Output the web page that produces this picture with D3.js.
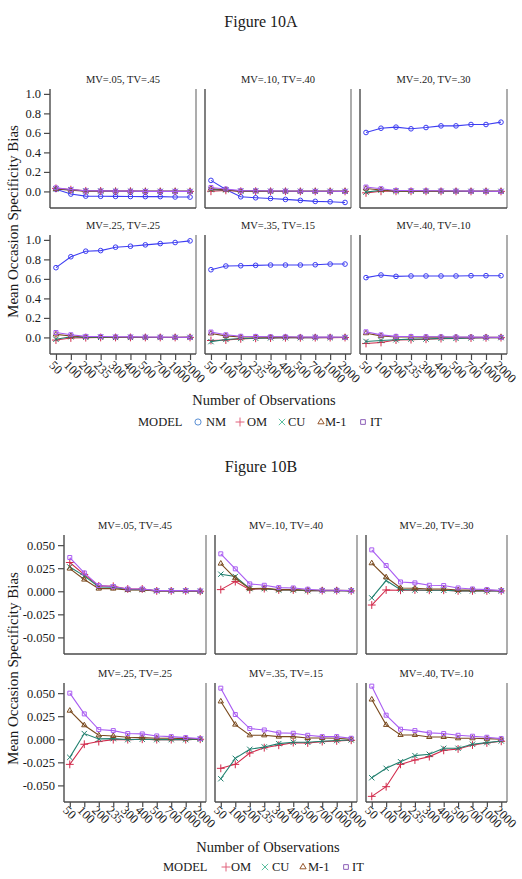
<!DOCTYPE html>
<html>
<head>
<meta charset="utf-8">
<script src="https://cdn.jsdelivr.net/npm/d3@7"></script>
<style>
  html, body { margin: 0; padding: 0; background: #fff; }
  svg { display: block; }
  text { font-family: "Liberation Serif", "Times New Roman", serif; fill: #1a1a1a; }
</style>
</head>
<body>
<svg id="chart" width="522" height="879"></svg>
<script>
// ---------------- DATA ----------------
const categories = ["50", "100", "200", "235", "300", "400", "500", "700", "1000", "2000"];
const panelTitles = ["MV=.05, TV=.45", "MV=.10, TV=.40", "MV=.20, TV=.30",
                     "MV=.25, TV=.25", "MV=.35, TV=.15", "MV=.40, TV=.10"];
const modelNames = ["NM", "OM", "CU", "M-1", "IT"];

const nmValues = [
  [0.022, -0.027, -0.048, -0.050, -0.051, -0.052, -0.053, -0.053, -0.057, -0.058],
  [0.113, 0.020, -0.055, -0.065, -0.072, -0.082, -0.092, -0.102, -0.106, -0.113],
  [0.604, 0.648, 0.659, 0.642, 0.655, 0.672, 0.672, 0.686, 0.686, 0.710],
  [0.715, 0.827, 0.884, 0.890, 0.925, 0.935, 0.949, 0.962, 0.973, 0.990],
  [0.694, 0.732, 0.735, 0.739, 0.742, 0.742, 0.742, 0.745, 0.752, 0.752],
  [0.613, 0.640, 0.626, 0.630, 0.630, 0.630, 0.630, 0.633, 0.633, 0.633]
];
const omValues = [
  [0.0312, 0.0181, 0.0058, 0.0054, 0.0025, 0.0025, 0.0004, 0.0004, 0.0004, 0.0000],
  [0.0018, 0.0105, 0.0018, 0.0029, 0.0014, 0.0014, 0.0007, 0.0007, 0.0007, 0.0004],
  [-0.0149, 0.0014, 0.0011, 0.0014, 0.0011, 0.0011, 0.0004, 0.0004, 0.0004, 0.0004],
  [-0.0272, -0.0054, -0.0025, -0.0004, -0.0004, 0.0000, -0.0004, -0.0004, -0.0004, 0.0000],
  [-0.0315, -0.0272, -0.0149, -0.0091, -0.0065, -0.0036, -0.0040, -0.0025, -0.0018, -0.0011],
  [-0.0619, -0.0514, -0.0272, -0.0225, -0.0188, -0.0120, -0.0105, -0.0062, -0.0040, -0.0022]
];
const cuValues = [
  [0.0264, 0.0167, 0.0047, 0.0043, 0.0018, 0.0018, 0.0004, 0.0004, 0.0004, 0.0000],
  [0.0185, 0.0160, 0.0029, 0.0029, 0.0014, 0.0014, 0.0007, 0.0007, 0.0007, 0.0004],
  [-0.0072, 0.0116, 0.0018, 0.0014, 0.0011, 0.0011, 0.0004, 0.0004, 0.0004, 0.0004],
  [-0.0196, 0.0062, 0.0004, 0.0007, -0.0004, 0.0000, -0.0004, -0.0004, -0.0004, 0.0000],
  [-0.0428, -0.0207, -0.0109, -0.0083, -0.0047, -0.0033, -0.0033, -0.0022, -0.0014, -0.0007],
  [-0.0417, -0.0315, -0.0243, -0.0177, -0.0163, -0.0098, -0.0098, -0.0054, -0.0036, -0.0018]
];
const m1Values = [
  [0.0246, 0.0127, 0.0029, 0.0029, 0.0014, 0.0014, 0.0004, 0.0004, 0.0004, 0.0000],
  [0.0300, 0.0141, 0.0029, 0.0033, 0.0018, 0.0018, 0.0011, 0.0011, 0.0011, 0.0007],
  [0.0304, 0.0152, 0.0036, 0.0033, 0.0025, 0.0025, 0.0014, 0.0014, 0.0011, 0.0007],
  [0.0310, 0.0152, 0.0043, 0.0036, 0.0022, 0.0018, 0.0011, 0.0011, 0.0007, 0.0004],
  [0.0410, 0.0159, 0.0043, 0.0043, 0.0029, 0.0029, 0.0014, 0.0014, 0.0011, 0.0000],
  [0.0431, 0.0156, 0.0047, 0.0047, 0.0025, 0.0025, 0.0011, 0.0011, 0.0007, 0.0000]
];
const itValues = [
  [0.0366, 0.0199, 0.0062, 0.0051, 0.0025, 0.0025, 0.0007, 0.0007, 0.0007, 0.0004],
  [0.0406, 0.0243, 0.0080, 0.0065, 0.0040, 0.0036, 0.0022, 0.0011, 0.0011, 0.0007],
  [0.0449, 0.0279, 0.0101, 0.0091, 0.0065, 0.0062, 0.0036, 0.0025, 0.0018, 0.0007],
  [0.0500, 0.0275, 0.0105, 0.0094, 0.0062, 0.0058, 0.0036, 0.0029, 0.0018, 0.0007],
  [0.0554, 0.0268, 0.0116, 0.0101, 0.0069, 0.0065, 0.0043, 0.0029, 0.0029, 0.0011],
  [0.0576, 0.0261, 0.0109, 0.0094, 0.0069, 0.0062, 0.0043, 0.0033, 0.0022, 0.0007]
];
const yTicksA = [0, 0.2, 0.4, 0.6, 0.8, 1.0];
const yTicksB = [-0.05, -0.025, 0, 0.025, 0.05];

// ---------------- STYLE ----------------
const style = {
  "NM":  { line: "#3d3df2", legend: "#5a8fd4", symbol: d3.symbolCircle,    size: 17 },
  "OM":  { line: "#d22b4c", legend: "#e0607a", symbol: d3.symbolPlus,      size: 22 },
  "CU":  { line: "#21806f", legend: "#5cbf9f", symbol: d3.symbolTimes,     size: 20 },
  "M-1": { line: "#7a4a1e", legend: "#95562a", symbol: d3.symbolTriangle2, size: 20 },
  "IT":  { line: "#a95cf2", legend: "#8c5fb8", symbol: d3.symbolSquare2,   size: 20 }
};
const seriesValues = { "NM": nmValues, "OM": omValues, "CU": cuValues, "M-1": m1Values, "IT": itValues };

const svg = d3.select("#chart");
const minus = s => s.replace("\u2212", "-");
const serif = '"Liberation Serif", "Times New Roman", serif';

function drawFigure(cfg) {
  const g = svg.append("g");
  g.append("text").attr("x", cfg.titleX).attr("y", cfg.titleY)
    .attr("text-anchor", "middle").attr("font-size", 16).text(cfg.title);

  cfg.rows.forEach((row, ri) => {
    cfg.cols.forEach((col, ci) => {
      const pi = ri * 3 + ci;
      const x = d3.scalePoint().domain(categories).range([col[0], col[1]]).padding(0.4);
      const y = d3.scaleLinear().domain(cfg.domain).range([row[1], row[0]]);
      const pg = g.append("g");

      pg.append("text").attr("x", (col[0] + col[1]) / 2).attr("y", row[0] - 6)
        .attr("text-anchor", "middle").attr("font-size", 10.5).text(panelTitles[pi]);

      cfg.models.forEach(m => {
        const vals = seriesValues[m][pi];
        const pts = categories.map((c, i) => [x(c), y(vals[i])]);
        pg.append("path").attr("d", d3.line()(pts))
          .attr("fill", "none").attr("stroke", style[m].line).attr("stroke-width", 1.1);
        const sym = d3.symbol().type(style[m].symbol).size(style[m].size);
        pg.selectAll(null).data(pts).join("path")
          .attr("transform", d => `translate(${d[0]},${d[1]})`)
          .attr("d", sym()).attr("fill", "none")
          .attr("stroke", style[m].line).attr("stroke-width", 1);
      });

      pg.append("line").attr("x1", col[1]).attr("x2", col[1]).attr("y1", row[0]).attr("y2", row[1])
        .attr("stroke", "#8a8a8a").attr("stroke-width", 1.4);
      pg.append("line").attr("x1", col[0]).attr("x2", col[0]).attr("y1", row[0]).attr("y2", row[1])
        .attr("stroke", "#4a4a4a").attr("stroke-width", 1.4);
      pg.append("line").attr("x1", col[0]).attr("x2", col[1]).attr("y1", row[1]).attr("y2", row[1])
        .attr("stroke", "#4a4a4a").attr("stroke-width", 1.4);

      if (ci === 0) {
        const ax = pg.append("g").attr("transform", `translate(${col[0]},0)`)
          .call(d3.axisLeft(y).tickValues(cfg.ticks).tickSize(6).tickPadding(3)
            .tickFormat(d => minus(d3.format(cfg.fmt)(d))));
        ax.attr("font-family", null);
        ax.select(".domain").remove();
        ax.selectAll(".tick line").attr("stroke", "#4a4a4a").attr("stroke-width", 1.2);
        ax.selectAll(".tick text").attr("font-size", 12.5).attr("fill", "#1a1a1a")
          .style("font-family", serif);
      }
      if (ri === cfg.rows.length - 1) {
        const ax = pg.append("g").attr("transform", `translate(0,${row[1]})`)
          .call(d3.axisBottom(x).tickSize(cfg.xTick));
        ax.attr("font-family", null);
        ax.select(".domain").remove();
        ax.selectAll(".tick line").attr("stroke", "#4a4a4a").attr("stroke-width", 1.2);
        ax.selectAll(".tick text").attr("font-size", 12.5).attr("fill", "#1a1a1a")
          .style("font-family", serif)
          .attr("x", 0).attr("y", 0).attr("dy", 0)
          .attr("text-anchor", "start")
          .attr("transform", `translate(-8,${cfg.xLabOff}) rotate(45)`);
      }
    });
  });

  g.append("text")
    .attr("transform", `translate(${cfg.yTitleX},${(cfg.rows[0][0] + cfg.rows[cfg.rows.length - 1][1]) / 2}) rotate(-90)`)
    .attr("text-anchor", "middle").attr("font-size", 15).text("Mean Occasion Specificity Bias");
  g.append("text").attr("x", cfg.xTitleX).attr("y", cfg.xTitleY)
    .attr("text-anchor", "middle").attr("font-size", 14.5).text("Number of Observations");

  g.append("text").attr("x", cfg.legend.start).attr("y", cfg.legend.y).attr("font-size", 12.5).text("MODEL");
  cfg.models.forEach((m, i) => {
    const sx = cfg.legend.sym[i], tx = cfg.legend.txt[i];
    g.append("path").attr("transform", `translate(${sx},${cfg.legend.y - 4})`)
      .attr("d", d3.symbol().type(style[m].symbol).size(m === "NM" ? 30 : 28)())
      .attr("fill", "none").attr("stroke", style[m].legend).attr("stroke-width", 1);
    g.append("text").attr("x", tx).attr("y", cfg.legend.y).attr("font-size", 12.5).text(m);
  });
}

drawFigure({
  title: "Figure 10A", titleX: 261, titleY: 27,
  cols: [[50, 196], [205, 351], [360, 507]],
  rows: [[89, 208], [235, 354]],
  domain: [-0.17, 1.05], ticks: yTicksA, fmt: ".1f",
  models: ["NM", "OM", "CU", "M-1", "IT"],
  xTick: 6, xLabOff: 12,
  yTitleX: 18, xTitleX: 264, xTitleY: 405,
  legend: { y: 426, start: 138, sym: [198, 240, 282, 321, 363], txt: [206, 247, 288, 325, 370] }
});

drawFigure({
  title: "Figure 10B", titleX: 261, titleY: 472,
  cols: [[64, 206], [215, 357], [366, 507]],
  rows: [[535, 654], [683, 802]],
  domain: [-0.068, 0.061], ticks: yTicksB, fmt: ".3f",
  models: ["OM", "CU", "M-1", "IT"],
  xTick: 5, xLabOff: 9,
  yTitleX: 18, xTitleX: 268, xTitleY: 852,
  legend: { y: 871, start: 163, sym: [226, 265, 303, 346], txt: [231, 272, 308, 352] }
});
</script>
</body>
</html>
